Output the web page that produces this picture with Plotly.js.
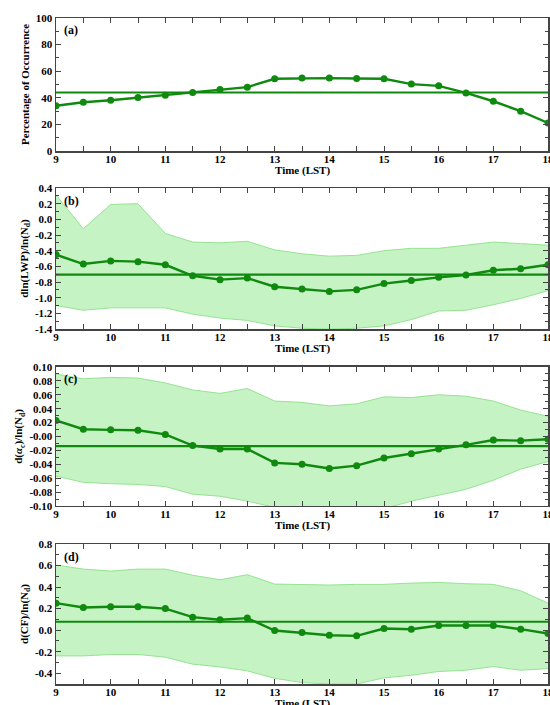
<!DOCTYPE html>
<html>
<head>
<meta charset="utf-8">
<script src="https://cdn.plot.ly/plotly-3.0.1.min.js"></script>
<style>html,body{margin:0;padding:0;background:#fff;}#chart{width:550px;height:705px;}</style>
</head>
<body>
<div id="chart"></div>
<script>
// ---- data ----
const hours = [9, 9.5, 10, 10.5, 11, 11.5, 12, 12.5, 13, 13.5, 14, 14.5, 15, 15.5, 16, 16.5, 17, 17.5, 18];

const occurrence = [34, 36.7, 38.2, 40.2, 42, 44, 46.2, 48, 54.3, 54.8, 54.8, 54.5, 54.3, 50.3, 49, 43.7, 37.4, 29.9, 21.1];
const occurrenceMean = 44;

const lwpSens  = [-0.45, -0.57, -0.53, -0.54, -0.58, -0.72, -0.77, -0.75, -0.86, -0.89, -0.92, -0.90, -0.82, -0.78, -0.74, -0.71, -0.65, -0.63, -0.58];
const lwpUpper = [0.31, -0.12, 0.19, 0.20, -0.18, -0.29, -0.30, -0.28, -0.39, -0.44, -0.47, -0.46, -0.40, -0.37, -0.37, -0.33, -0.29, -0.31, -0.33];
const lwpLower = [-1.10, -1.16, -1.13, -1.13, -1.13, -1.21, -1.26, -1.29, -1.36, -1.39, -1.40, -1.39, -1.36, -1.28, -1.17, -1.16, -1.09, -1.01, -0.91];
const lwpMean = -0.705;

const albSens  = [0.023, 0.0105, 0.0095, 0.009, 0.003, -0.013, -0.018, -0.018, -0.038, -0.040, -0.046, -0.042, -0.031, -0.025, -0.018, -0.012, -0.005, -0.006, -0.004];
const albUpper = [0.090, 0.083, 0.085, 0.084, 0.077, 0.067, 0.062, 0.069, 0.051, 0.049, 0.044, 0.047, 0.057, 0.056, 0.060, 0.058, 0.051, 0.038, 0.029];
const albLower = [-0.057, -0.066, -0.068, -0.069, -0.072, -0.083, -0.086, -0.093, -0.102, -0.110, -0.115, -0.110, -0.104, -0.093, -0.084, -0.076, -0.063, -0.047, -0.036];
const albMean = -0.014;

const cfSens  = [0.251, 0.211, 0.217, 0.217, 0.200, 0.121, 0.096, 0.112, -0.003, -0.022, -0.047, -0.053, 0.015, 0.009, 0.043, 0.043, 0.043, 0.009, -0.031];
const cfUpper = [0.605, 0.567, 0.549, 0.567, 0.567, 0.510, 0.468, 0.515, 0.428, 0.425, 0.419, 0.425, 0.425, 0.437, 0.443, 0.431, 0.425, 0.366, 0.251];
const cfLower = [-0.239, -0.239, -0.226, -0.226, -0.251, -0.316, -0.341, -0.378, -0.447, -0.487, -0.500, -0.500, -0.443, -0.419, -0.384, -0.372, -0.338, -0.372, -0.357];
const cfMean = 0.078;

const xTickVals = [9, 10, 11, 12, 13, 14, 15, 16, 17, 18];
const xTickText = ['9', '10', '11', '12', '13', '14', '15', '16', '17', '18'];
const xMinorVals = [9.5, 10.5, 11.5, 12.5, 13.5, 14.5, 15.5, 16.5, 17.5];
const aTickVals = [0, 20, 40, 60, 80, 100];
const aTickText = ['0', '20', '40', '60', '80', '100'];
const bTickVals = [-1.4, -1.2, -1.0, -0.8, -0.6, -0.4, -0.2, 0.0, 0.2, 0.4];
const bTickText = ['-1.4', '-1.2', '-1.0', '-0.8', '-0.6', '-0.4', '-0.2', '0.0', '0.2', '0.4'];
const cTickVals = [-0.10, -0.08, -0.06, -0.04, -0.02, 0.0, 0.02, 0.04, 0.06, 0.08, 0.10];
const cTickText = ['-0.10', '-0.08', '-0.06', '-0.04', '-0.02', '-0.00', '0.02', '0.04', '0.06', '0.08', '0.10'];
const dTickVals = [-0.4, -0.2, 0.0, 0.2, 0.4, 0.6, 0.8];
const dTickText = ['-0.4', '-0.2', '0.0', '0.2', '0.4', '0.6', '0.8'];

const panelLabels = ['(a)', '(b)', '(c)', '(d)'];
const yTitles = [
  'Percentage of Occurrence',
  'dln(LWP)/ln(N<sub>d</sub>)',
  'd(<i>α</i><sub>c</sub>)/ln(N<sub>d</sub>)',
  'd(CF)/ln(N<sub>d</sub>)'
];
const xTitle = 'Time (LST)';

// ---- styles ----
const lineColor = '#0f8a0f';
const fillColor = '#c6f3c3';
const edgeColor = '#95e393';
const FONT = 'Liberation Serif, Times New Roman, serif';

const traces = [];
function addBand(ax, lower, upper) {
  traces.push({x: hours, y: lower, xaxis: 'x' + ax, yaxis: 'y' + ax, mode: 'lines',
    line: {color: edgeColor, width: 1}, hoverinfo: 'skip', showlegend: false});
  traces.push({x: hours, y: upper, xaxis: 'x' + ax, yaxis: 'y' + ax, mode: 'lines',
    fill: 'tonexty', fillcolor: fillColor,
    line: {color: edgeColor, width: 1}, hoverinfo: 'skip', showlegend: false});
}
function addMean(ax, m) {
  traces.push({x: [hours[0], hours[hours.length - 1]], y: [m, m], xaxis: 'x' + ax, yaxis: 'y' + ax,
    mode: 'lines', line: {color: lineColor, width: 2.2}, showlegend: false});
}
function addSeries(ax, ys) {
  traces.push({x: hours, y: ys, xaxis: 'x' + ax, yaxis: 'y' + ax, mode: 'lines+markers',
    line: {color: lineColor, width: 2.4}, marker: {color: lineColor, size: 7}, showlegend: false});
}

addMean('', occurrenceMean);
addSeries('', occurrence);

addBand('2', lwpLower, lwpUpper);
addMean('2', lwpMean);
addSeries('2', lwpSens);

addBand('3', albLower, albUpper);
addMean('3', albMean);
addSeries('3', albSens);

addBand('4', cfLower, cfUpper);
addMean('4', cfMean);
addSeries('4', cfSens);

const tickFont = {family: FONT, size: 11, color: '#000', weight: 'bold'};
const titleFont = {family: FONT, size: 11, color: '#000', weight: 'bold'};

function xAxis(anchor) {
  return {
    anchor: anchor, range: [9, 18], tickvals: xTickVals, ticktext: xTickText,
    ticks: 'inside', ticklen: 5, tickwidth: 1, tickcolor: '#444',
    minor: {ticks: 'inside', ticklen: 5, tickvals: xMinorVals, tickcolor: '#444'},
    showline: true, linecolor: '#444', linewidth: 1.5, mirror: 'ticks',
    showgrid: false, zeroline: false, tickfont: tickFont,
    ticklabeloverflow: 'allow', ticklabelstandoff: -3,
    automargin: false
  };
}
function yAxis(anchor, domain, range, tv, tt, minorStep, title) {
  return {
    anchor: anchor, domain: domain, range: range, tickvals: tv, ticktext: tt,
    ticks: 'inside', ticklen: 5, tickwidth: 1, tickcolor: '#444',
    minor: {ticks: 'inside', ticklen: 3, dtick: minorStep, tick0: 0, tickcolor: '#444'},
    showline: true, linecolor: '#444', linewidth: 1.5, mirror: 'ticks',
    showgrid: false, zeroline: false, tickfont: tickFont,
    ticklabeloverflow: 'allow',
    title: {text: title, font: titleFont, standoff: 4},
    automargin: false
  };
}

const axPairs = [['x', 'y'], ['x2', 'y2'], ['x3', 'y3'], ['x4', 'y4']];
const annotations = [];
axPairs.forEach((a, i) => {
  annotations.push({
    xref: a[0] + ' domain', yref: a[1] + ' domain', x: 0.012, y: 0.975, xanchor: 'left', yanchor: 'top',
    text: '<b>' + panelLabels[i] + '</b>', showarrow: false,
    font: {family: FONT, size: 12, color: '#000'}
  });
  annotations.push({
    xref: a[0] + ' domain', yref: a[1] + ' domain', x: 0.5, y: 0, xanchor: 'center', yanchor: 'middle',
    yshift: -19.5, text: '<b>' + xTitle + '</b>', showarrow: false,
    font: {family: FONT, size: 11, color: '#000'}
  });
});

const layout = {
  width: 550, height: 705,
  margin: {l: 56, r: 2, t: 18, b: 21},
  paper_bgcolor: '#fff', plot_bgcolor: '#fff',
  showlegend: false,
  xaxis: xAxis('y'),
  xaxis2: xAxis('y2'),
  xaxis3: xAxis('y3'),
  xaxis4: xAxis('y4'),
  yaxis: yAxis('x', [0.8003, 1.0], [0, 100], aTickVals, aTickText, 10, yTitles[0]),
  yaxis2: yAxis('x2', [0.5330, 0.7447], [-1.4, 0.4], bTickVals, bTickText, 0.1, yTitles[1]),
  yaxis3: yAxis('x3', [0.2673, 0.4760], [-0.10, 0.10], cTickVals, cTickText, 0.01, yTitles[2]),
  yaxis4: yAxis('x4', [0, 0.2102], [-0.5, 0.8], dTickVals, dTickText, 0.1, yTitles[3]),
  annotations: annotations
};

Plotly.newPlot('chart', traces, layout, {displayModeBar: false, staticPlot: true});
</script>
</body>
</html>
